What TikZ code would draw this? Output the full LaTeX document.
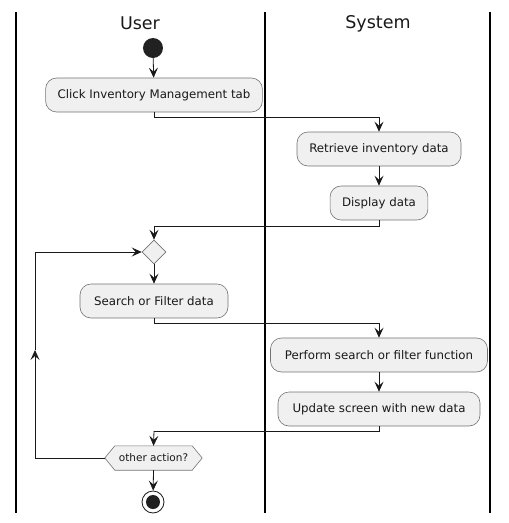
\documentclass[tikz,border=0pt]{standalone}
\usepackage{fontspec}
\setmainfont{DejaVu Sans}
\usetikzlibrary{arrows.meta,shapes.geometric}
\begin{document}
\begin{tikzpicture}[x=1pt,y=-1pt,
  act/.style={draw=black!55, line width=0.6pt, fill=black!6, rounded corners=11pt,
     minimum height=34pt, inner xsep=12pt, font=\fontsize{11.8}{13}\selectfont, text=black!90},
  lane/.style={line width=1.1pt, black},
  title/.style={font=\fontsize{17.5}{20}\selectfont, text=black!90},
  conn/.style={line width=0.8pt, black!90, -{Stealth[length=10pt,width=9pt,inset=4pt]}},
  plain/.style={line width=0.8pt, black!90},
  ]
\useasboundingbox (0,0) rectangle (509,523);
% lanes
\draw[lane] (16,12) -- (16,513);
\draw[lane] (265,12) -- (265,513);
\draw[lane] (490,12) -- (490,513);
\node[title] (tu) at (140,23.5) {User};
\node[title] (ts) at (378,23.5) {System};
% nodes
\node[circle, fill=black!87, minimum size=20pt, inner sep=0pt] (start) at (153,48) {};
\node[act, minimum width=216pt] (a1) at (154,95) {Click Inventory Management tab};
\node[act, minimum width=164pt] (a2) at (379,149) {Retrieve inventory data};
\node[act, minimum width=97pt] (a3) at (379,203) {Display data};
\node[diamond, draw=black!55, line width=0.6pt, fill=black!6, minimum width=24pt, minimum height=24pt, inner sep=0pt] (dia) at (154,252) {};
\node[act, minimum width=148pt] (a4) at (154,301) {Search or Filter data};
\node[act, minimum width=217pt] (a5) at (379,355) {Perform search or filter function};
\node[act, minimum width=202pt] (a6) at (379,409) {Update screen with new data};
\node[minimum width=97pt, minimum height=24pt, inner sep=0pt] (hx) at (153.5,458) {};
\fill[black!6] (hx.west) -- ([xshift=10pt]hx.north west) -- ([xshift=-10pt]hx.north east) -- (hx.east) -- ([xshift=-10pt]hx.south east) -- ([xshift=10pt]hx.south west) -- cycle;
\draw[black!55, line width=0.6pt] (hx.west) -- ([xshift=10pt]hx.north west) -- ([xshift=-10pt]hx.north east) -- (hx.east) -- ([xshift=-10pt]hx.south east) -- ([xshift=10pt]hx.south west) -- cycle;
\node[font=\fontsize{10.5}{12}\selectfont, text=black!90] (hxt) at (hx) {other action?};
\node[circle, draw=black!90, line width=0.8pt, fill=white, minimum size=22pt, inner sep=0pt] (stop) at (153,502) {};
\node[circle, fill=black!87, minimum size=14pt, inner sep=0pt] (stopin) at (stop) {};
% coordinates
\coordinate (c1) at (379,117);
\coordinate (c2) at (154,226);
\coordinate (c3) at (379,323);
\coordinate (c4) at (154,431);
\coordinate (lp) at (35,350);
% connectors
\draw[conn] (start) -- (a1);
\draw[plain] (a1.south) |- (c1);
\draw[conn] (c1) -- (a2);
\draw[conn] (a2) -- (a3);
\draw[plain] (a3.south) |- (c2);
\draw[conn] (c2) -- (dia.north);
\draw[conn] (dia) -- (a4);
\draw[plain] (a4.south) |- (c3);
\draw[conn] (c3) -- (a5);
\draw[conn] (a5) -- (a6);
\draw[plain] (a6.south) |- (c4);
\draw[conn] (c4) -- (hx.north);
\draw[conn] (hx.west) -| (lp);
\draw[conn] (lp) |- (dia.west);
\draw[conn] (hx.south) -- (stop);
\end{tikzpicture}
\end{document}
